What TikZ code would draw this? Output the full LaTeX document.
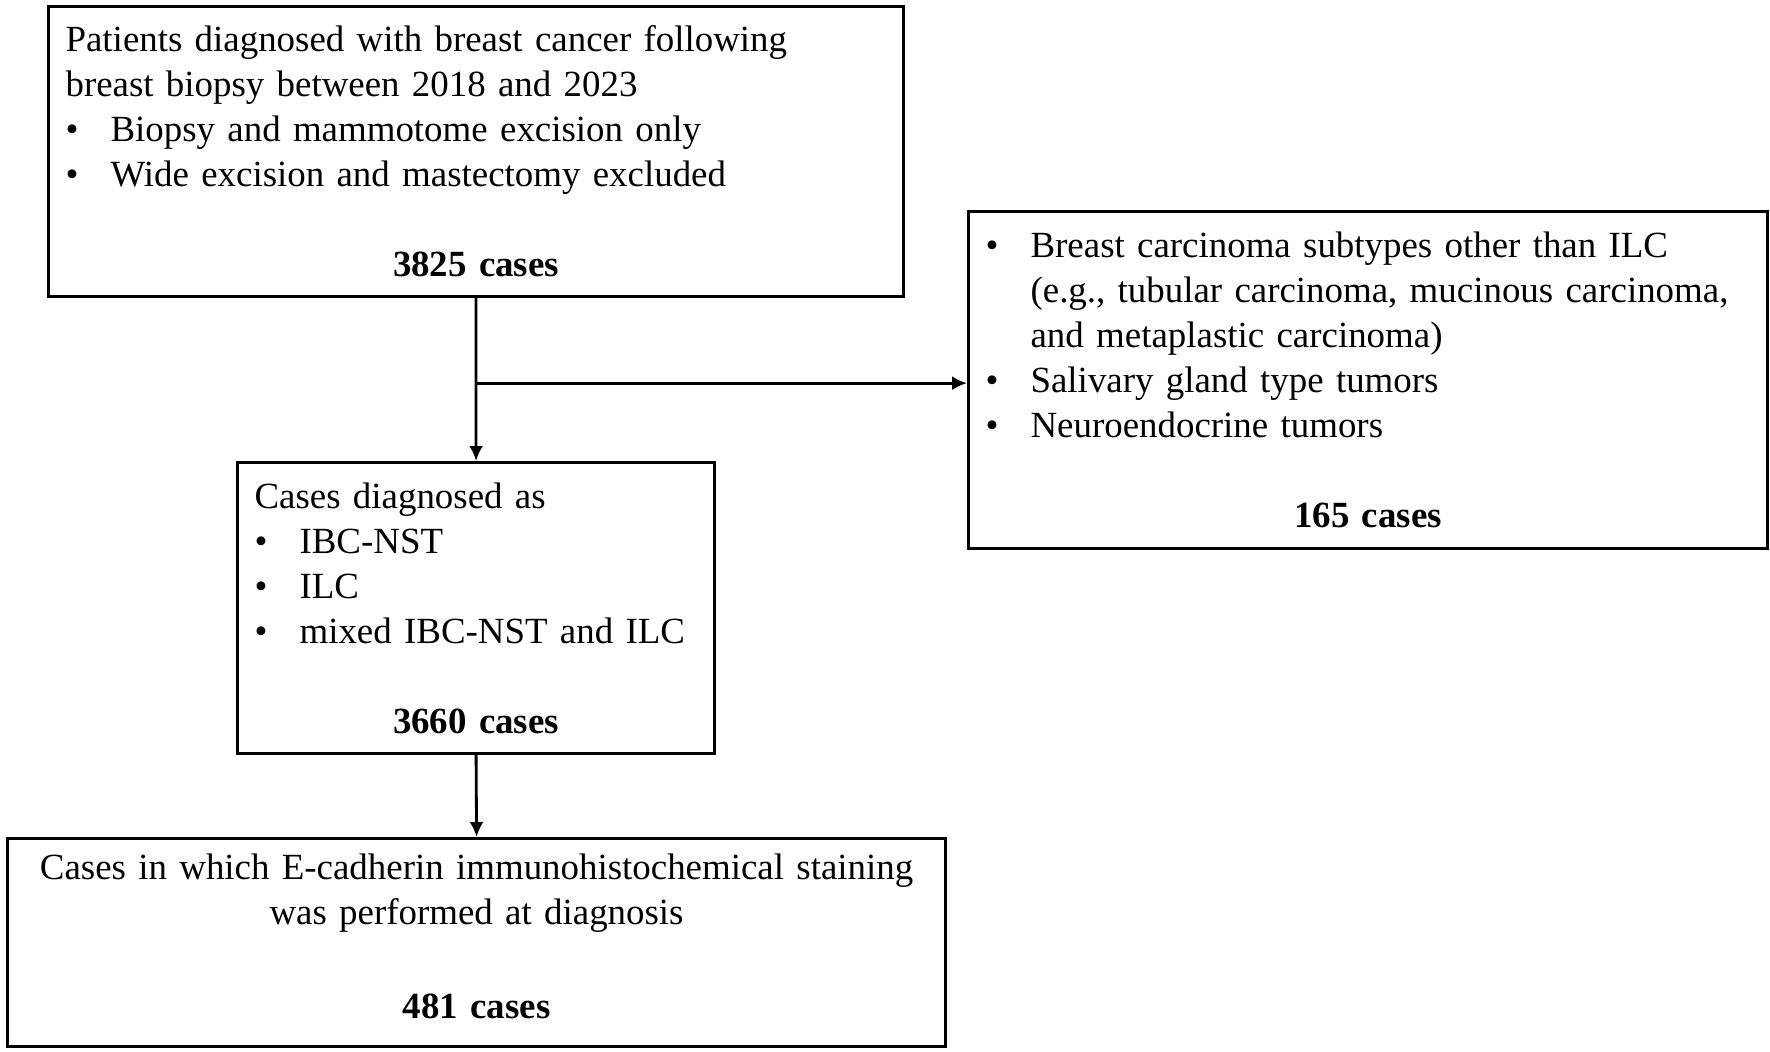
\documentclass[tikz,border=0pt]{standalone}
\usepackage{fontspec}
\setmainfont{Liberation Serif}
\usepackage{tikz}
\usetikzlibrary{arrows.meta,calc,positioning}
\newcommand{\itm}{\makebox[0.45cm][l]{\textbullet}}
\newcommand{\cont}{\hspace*{0.45cm}}
\newcommand{\ncases}[1]{\makebox[\linewidth]{\textbf{#1}}}

\begin{document}
\begin{tikzpicture}[>={Latex[length=1.5mm,width=1.4mm]},
  box/.style={draw,line width=0.9pt,rectangle,anchor=north west,inner xsep=0.17cm,
    inner ysep=0pt,align=left,font=\fontsize{10.5}{12.8}\selectfont},
  link/.style={->,line width=0.8pt}]
  \useasboundingbox (0,0) rectangle (17.7,-10.51);
  \node[box,text width=8.21cm,minimum height=2.90cm] (pat) at (0.47,-0.05)
    {Patients diagnosed with breast cancer following\\
     breast biopsy between 2018 and 2023\\
     \itm Biopsy and mammotome excision only\\
     \itm Wide excision and mastectomy excluded\\[0.45cm]
     \ncases{3825 cases}};
  \node[box,text width=7.65cm,minimum height=3.37cm] (excl) at (9.67,-2.10)
    {\itm Breast carcinoma subtypes other than ILC\\
     \cont (e.g., tubular carcinoma, mucinous carcinoma,\\
     \cont and metaplastic carcinoma)\\
     \itm Salivary gland type tumors\\
     \itm Neuroendocrine tumors\\[0.45cm]
     \ncases{165 cases}};
  \node[box,text width=4.43cm,minimum height=2.91cm] (sub) at (2.36,-4.61)
    {Cases diagnosed as\\
     \itm IBC-NST\\
     \itm ILC\\
     \itm mixed IBC-NST and ILC\\[0.45cm]
     \ncases{3660 cases}};
  \node[box,align=center,text width=9.04cm,minimum height=2.08cm] (ecad) at (0.06,-8.37)
    {Cases in which E-cadherin immunohistochemical staining\\
     was performed at diagnosis\\[0.49cm]
     \textbf{481 cases}\rule[-0.12cm]{0pt}{0pt}};
  % connectors
  \coordinate (split) at ($(pat.south)+(0,-0.85)$);
  \draw[link] (pat.south) -- (sub.north);
  \draw[link] (split) -- (split -| excl.west);
  \draw[link] (sub.south) -- (ecad.north);
\end{tikzpicture}
\end{document}
